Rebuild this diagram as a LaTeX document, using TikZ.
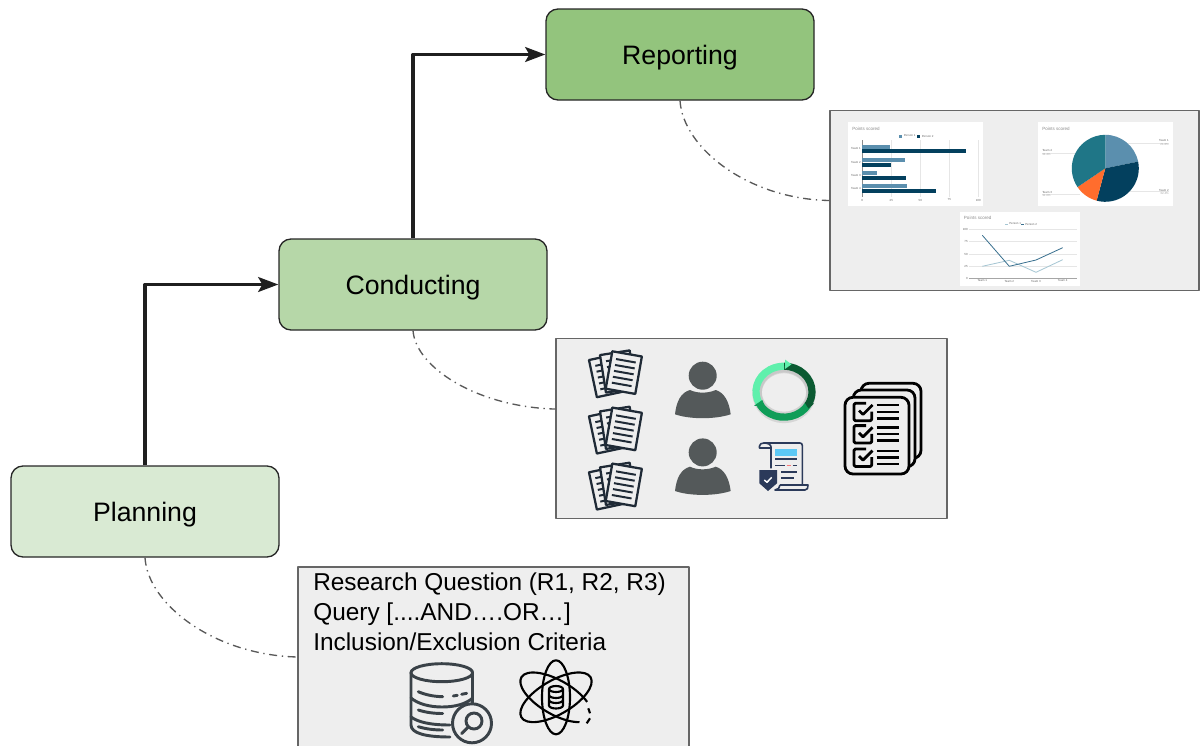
\documentclass[tikz,border=0pt]{standalone}
\usepackage{fontspec}
\setmainfont{Liberation Sans}
\usetikzlibrary{arrows.meta}

\definecolor{planfill}{HTML}{D9EAD3}
\definecolor{condfill}{HTML}{B6D7A8}
\definecolor{repfill}{HTML}{93C47D}
\definecolor{panelfill}{HTML}{EEEEEE}
\definecolor{panelline}{HTML}{666666}
\definecolor{barlight}{HTML}{5B8FAE}
\definecolor{bardark}{HTML}{03405E}
\definecolor{pieteal}{HTML}{1F7687}
\definecolor{pieorange}{HTML}{FF6D2D}
\definecolor{linelight}{HTML}{A5C6D3}
\definecolor{gridgray}{HTML}{E6E6E6}
\definecolor{persongray}{HTML}{54595A}
\definecolor{docnavy}{HTML}{1F2A36}
\definecolor{scrollnavy}{HTML}{2B3A5A}
\definecolor{scrollblue}{HTML}{5CC8F5}
\definecolor{dbgray}{HTML}{3A4248}
\definecolor{ringlight}{HTML}{5FF0AC}
\definecolor{ringdark}{HTML}{0B5A32}
\definecolor{ringmid}{HTML}{0F9D58}

\tikzset{
  stagebox/.style={draw=black!85, line width=1pt, rounded corners=9pt, minimum width=201pt, minimum height=68.25pt, text height=19pt, text depth=4.2pt, font=\fontsize{20}{24}\selectfont},
  panelbox/.style={draw=panelline, fill=panelfill, line width=1.1pt, minimum width=#1, minimum height=135pt, inner sep=0pt},
  flowline/.style={line width=2.7pt, draw=black!88, -{Stealth[length=15pt, width=11pt, inset=3pt]}},
  noteline/.style={line width=1pt, draw=black!65, dash pattern=on 6pt off 3.5pt on 1pt off 3.5pt},
  tinytext/.style={text=black!60, inner sep=0pt, font=\fontsize{2.2}{2.6}\selectfont},
  titletext/.style={text=black!45, inner sep=0pt, anchor=west, font=\fontsize{3.4}{4}\selectfont},
  docline/.style={draw=docnavy, fill=panelfill, line width=1.7pt},
  dbline/.style={draw=dbgray, line width=2.2pt, line cap=round},
  atomline/.style={black, line width=1.6pt},
  checkline/.style={draw=black, line width=2.1pt, rounded corners=2pt}
}

\newcommand{\docpage}[3]{
  \begin{scope}[shift={(#1,#2)}, rotate=#3]
    \filldraw[docline] (-15,-19) rectangle (15,19);
    \foreach \l in {-12,-6,0,6,12} {
      \draw[docnavy, line width=1.5pt] (-10,\l) -- (10,\l);
    }
  \end{scope}
}

\begin{document}
\begin{tikzpicture}[x=0.75pt, y=-0.75pt, line join=round]
    \useasboundingbox (0,0) rectangle (1200,746);
    \clip (0,0) rectangle (1200,746);

    % Les trois etapes
    \node[stagebox, fill=planfill] (planning) at (145,511.5) {Planning};
    \node[stagebox, fill=condfill] (conducting) at (413,284.5) {Conducting};
    \node[stagebox, fill=repfill] (reporting) at (680,54.5) {Reporting};

    \draw[flowline] (planning.north) |- (conducting.west);
    \draw[flowline] (conducting.north) |- (reporting.west);

    % Panneaux gris
    \node[panelbox=293.25pt] (planpanel) at (493.5,657) {};
    \node[panelbox=293.25pt] (condpanel) at (751.5,428.5) {};
    \node[panelbox=276.75pt] (reppanel) at (1014.5,200.5) {};

    \draw[noteline] (planning.south) .. controls (148,605) and (215,655) .. (planpanel.west);
    \draw[noteline] (conducting.south) .. controls (416,368) and (478,407) .. ([yshift=14.6pt]condpanel.west);
    \draw[noteline] (reporting.south) .. controls (683,148) and (748,199) .. (reppanel.west);

    \node[anchor=north west, inner sep=0pt, align=left, font=\fontsize{18.3}{22.2}\selectfont] (plantext) at (313,573)
      {Research Question (R1, R2, R3)\\Query [....AND….OR…]\\Inclusion/Exclusion Criteria};

    % Base de donnees
    \draw[dbline] (441.8,672.7) ellipse (30.8 and 9);
    \draw[dbline] (411,672.7) -- (411,725) .. controls (411,733) and (425,737) .. (450,737);
    \draw[dbline] (472.7,672.7) -- (472.7,704);
    \draw[dbline] (411,698) .. controls (418,704) and (430,707) .. (442,707) .. controls (455,707) and (466,704) .. (472.7,698);
    \draw[dbline] (411,717) .. controls (418,722) and (430,725) .. (450,725);
    \draw[dbline] (418.3,691.7) .. controls (426,695) and (434,696.5) .. (442.7,696.7);
    \draw[dbline] (453.3,696) -- (457.3,695.3);
    \draw[dbline] (461.7,694.3) -- (466.7,693.3);
    \draw[dbline] (418.3,710) .. controls (426,712.5) and (434,713.5) .. (442.7,713.5);
    \draw[dbline] (418.3,726.7) .. controls (426,729) and (434,730) .. (442.7,730);
    \draw[dbline, fill=panelfill] (472,723.3) circle (19.5);
    \draw[dbline] (474,721) circle (8);
    \draw[dbline] (468.3,727) -- (461.7,733.5);

    % Atome
    \draw[atomline] (556,697.3) ellipse (14 and 37);
    \begin{scope}[shift={(556,697.3)}, rotate=-60]
      \draw[atomline] (0,0) ellipse (17 and 40);
    \end{scope}
    \begin{scope}[shift={(556,697.3)}, rotate=60]
      \draw[atomline] (-9.76,32.76) arc[start angle=125, end angle=407, x radius=17, y radius=40];
    \end{scope}
    \draw[atomline] (588.3,708.3) -- (590,713.3);
    \draw[atomline] (590,718.3) -- (586.7,723.3);
    \draw[atomline, fill=panelfill] (549,689) -- (549,705.5) arc[start angle=180, end angle=0, x radius=7, y radius=3] -- (563,689);
    \draw[atomline] (556,689) ellipse (7 and 3);
    \draw[atomline] (549,695) arc[start angle=180, end angle=0, x radius=7, y radius=3];
    \draw[atomline] (549,700) arc[start angle=180, end angle=0, x radius=7, y radius=3];

    % Piles de documents
    \foreach \dy in {0,56.3,112.3} {
      \begin{scope}[shift={(0,\dy)}]
        \docpage{607.6}{375.5}{12}
        \docpage{617.8}{371.5}{9}
        \docpage{623.8}{372.6}{-10}
      \end{scope}
    }

    % Personnes
    \foreach \dy in {0,76.7} {
      \begin{scope}[shift={(0,\dy)}]
        \fill[persongray] (702.7,375.7) circle (14);
        \fill[persongray] (675,414.3) .. controls (676.5,401) and (681,392.5) .. (690,390) .. controls (697,393.5) and (708,393.5) .. (715.7,390) .. controls (724,392.5) and (729,401) .. (730.7,414.3) .. controls (715,419.5) and (690,419.5) .. (675,414.3) -- cycle;
      \end{scope}
    }

    % Anneau
    \draw[black!30, line width=7pt, opacity=0.4] (784,393.5) ellipse (27 and 25);
    \draw[black!25, line width=2pt, opacity=0.6] (784,392) ellipse (23.5 and 21);
    \draw[ringmid, line width=5.4pt] (808.25,404.45) arc[start angle=30, end angle=150, x radius=28, y radius=25.5];
    \draw[ringdark, line width=5.4pt] (784,366.2) arc[start angle=-90, end angle=30, x radius=28, y radius=25.5];
    \draw[ringlight, line width=5.4pt] (759.75,404.45) arc[start angle=150, end angle=270, x radius=28, y radius=25.5];
    \fill[ringlight] (785,359.5) -- (785,369) -- (791.5,364.3) -- cycle;
    \fill[ringdark] (804.5,402.5) -- (814,403.5) -- (808.5,408.5) -- cycle;
    \fill[ringmid] (754,405.7) -- (762.3,400) -- (765,406.5) -- cycle;

    % Parchemin
    \draw[scrollnavy, line width=1.2pt] (771,468.3) -- (771,447) .. controls (771,444.5) and (768,443) .. (764,443) -- (800,443) .. controls (801.5,443) and (802.3,444) .. (802.3,445.5) -- (802.3,485);
    \draw[scrollnavy, line width=1.2pt] (771,448) -- (759.5,448) -- (759.5,446) .. controls (759.5,444) and (761.5,443) .. (764,443);
    \draw[scrollnavy, line width=1.2pt] (780,485) -- (808,485) .. controls (808,488) and (807.5,490) .. (805,490) -- (775,490) .. controls (778,489.5) and (780,488) .. (780,485);
    \fill[scrollblue] (775.3,449) rectangle (797,455.7);
    \draw[scrollnavy, line width=1.1pt] (775.3,459) -- (797,459);
    \draw[scrollnavy, line width=1.1pt] (775.3,465.3) -- (785,465.3);
    \draw[red!50!panelfill, line width=1.1pt] (786.7,465.3) -- (791,465.3);
    \draw[scrollnavy, line width=1.1pt] (792.7,465.3) -- (797,465.3);
    \draw[scrollnavy, line width=1.1pt] (781,472) -- (797,472);
    \draw[scrollnavy, line width=1.1pt] (781,478) -- (794,478);
    \fill[scrollnavy] (759.3,470) -- (777,470) -- (777,483.3) -- (768,491) -- (759.3,483.3) -- cycle;
    \draw[white, line width=1.1pt] (764.3,480) -- (767,482.3) -- (771.7,477.3);

    % Liste de controle
    \filldraw[checkline, fill=panelfill, rounded corners=6pt] (861,383.3) rectangle (921,458.3);
    \filldraw[checkline, fill=panelfill, rounded corners=6pt] (853.3,390) rectangle (915,466.7);
    \filldraw[checkline, fill=panelfill, rounded corners=6pt] (845,397.3) rectangle (909,474);
    \foreach \dy in {0,22.3,45.7} {
      \begin{scope}[shift={(0,\dy)}]
        \draw[checkline, rounded corners=1pt] (871.7,411.5) -- (871.7,420.7) -- (854,420.7) -- (854,403.3) -- (866,403.3);
        \draw[black, line width=2.1pt] (859,410.5) -- (863,414.5) -- (872.5,405);
        \foreach \yy in {405,411.7,418.3} {
          \draw[black, line width=1.8pt] (876.7,\yy) -- (899,\yy);
        }
      \end{scope}
    }

    % Graphique en barres
    \fill[white] (848,122) rectangle (983,206);
    \node[titletext] (bartitle) at (852,129) {Points scored};
    \foreach \x in {891.3,920.3,949.3,978.3} {
      \draw[gridgray, line width=0.4pt] (\x,140) -- (\x,197);
    }
    \draw[black!45, line width=0.4pt] (862.3,140) -- (862.3,197);
    \fill[barlight] (899,134.5) rectangle (902,137.5);
    \fill[bardark] (917,134.5) rectangle (920,137.5);
    \node[tinytext, anchor=west] (barleg1) at (903.5,136) {Person 1};
    \node[tinytext, anchor=west] (barleg2) at (921.5,136) {Person 2};
    \foreach \yy/\a/\b/\t in {145/890.3/966/1, 158.3/904.7/890.7/2, 171.3/876.7/905.7/3, 184.3/906.7/935.7/4} {
      \fill[barlight] (862.3,\yy) rectangle (\a,\yy+3.9);
      \fill[bardark] (862.3,\yy+4.3) rectangle (\b,\yy+8.3);
      \node[tinytext, anchor=east] at (861,\yy+4) {Team \t};
    }
    \foreach \x/\v in {862.3/0, 891.3/25, 920.3/50, 949.3/75, 978.3/100} {
      \node[tinytext] at (\x,200) {\v};
    }

    % Camembert
    \fill[white] (1038,122) rectangle (1173,206);
    \node[titletext] (pietitle) at (1042,129) {Points scored};
    \coordinate (piecentre) at (1105.3,168.3);
    \draw[gridgray, line width=0.6pt] (1126.7,143.3) -- (1169,143.3);
    \draw[gridgray, line width=0.6pt] (1126.7,191.7) -- (1169,191.7);
    \draw[gridgray, line width=0.6pt] (1042,194.3) -- (1080,194.3);
    \draw[gridgray, line width=0.6pt] (1042,153.3) -- (1076,153.3);
    \fill[barlight] (piecentre) -- ++(-90:33.5) arc[start angle=-90, end angle=-11.5, radius=33.5] -- cycle;
    \fill[bardark] (piecentre) -- ++(-11.5:33.5) arc[start angle=-11.5, end angle=105, radius=33.5] -- cycle;
    \fill[pieorange] (piecentre) -- ++(105:33.5) arc[start angle=105, end angle=146, radius=33.5] -- cycle;
    \fill[pieteal] (piecentre) -- ++(146:33.5) arc[start angle=146, end angle=270, radius=33.5] -- cycle;
    \foreach \x/\y/\t/\p/\side in {1169/141/1/21.8/east, 1169/190/2/32.4/east, 1042/192/3/11.4/west, 1042/151/4/34.4/west} {
      \node[tinytext, anchor=\side] at (\x,\y) {Team \t};
      \node[tinytext, anchor=\side, text=black!35] at (\x,\y+3.7) {\p\%};
    }

    % Graphique en lignes
    \fill[white] (960,212) rectangle (1080,286);
    \node[titletext] (linetitle) at (963.7,218) {Points scored};
    \draw[linelight, line width=0.5pt] (1005,224) -- (1008,224);
    \draw[barlight!60!bardark, line width=0.5pt] (1021,224) -- (1024,224);
    \node[tinytext, anchor=west] (lineleg1) at (1009,224) {Person 1};
    \node[tinytext, anchor=west] (lineleg2) at (1025,224) {Person 2};
    \foreach \yy/\v in {229.3/100, 241.7/75, 254/50, 266.3/25} {
      \draw[gridgray, line width=0.4pt] (969.3,\yy) -- (1076.7,\yy);
      \node[tinytext, anchor=east] at (968,\yy) {\v};
    }
    \draw[black!35, line width=0.5pt] (969.3,278.3) -- (1076.7,278.3);
    \node[tinytext, anchor=east] at (968,278.3) {0};
    \draw[linelight, line width=0.6pt] (982.3,266.3) -- (1009.3,260.3) -- (1036,272.3) -- (1062.7,259.7);
    \draw[barlight!60!bardark, line width=0.6pt] (982.3,235.3) -- (1009.3,266.3) -- (1036,260) -- (1062.7,247.7);
    \foreach \x/\t in {982.3/1, 1009.3/2, 1036/3, 1062.7/4} {
      \node[tinytext] at (\x,281) {Team \t};
    }

\end{tikzpicture}
\end{document}
